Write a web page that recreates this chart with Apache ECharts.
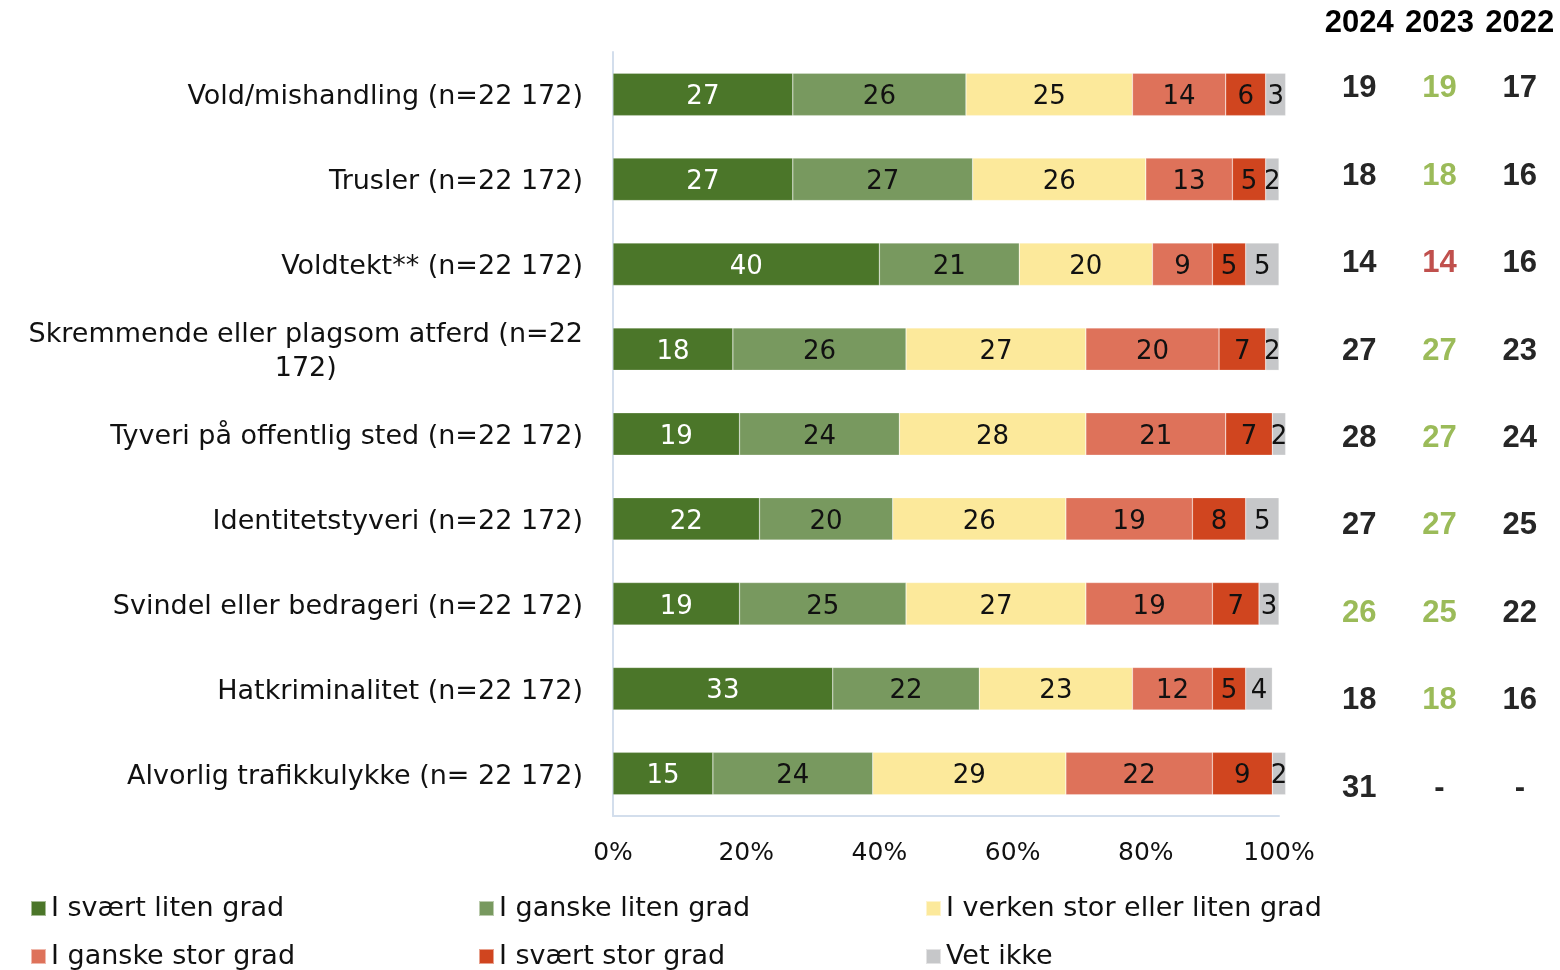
<!DOCTYPE html>
<html>
<head>
<meta charset="utf-8">
<script src="https://cdn.jsdelivr.net/npm/echarts@6/dist/echarts.min.js"></script>
<style>
html,body{margin:0;padding:0;background:#fff;}
#chart{width:1560px;height:970px;}
</style>
</head>
<body>
<div id="chart"></div>
<script>
var categories = [
  'Vold/mishandling (n=22 172)',
  'Trusler (n=22 172)',
  'Voldtekt** (n=22 172)',
  'Skremmende eller plagsom atferd (n=22\n172)',
  'Tyveri på offentlig sted (n=22 172)',
  'Identitetstyveri (n=22 172)',
  'Svindel eller bedrageri (n=22 172)',
  'Hatkriminalitet (n=22 172)',
  'Alvorlig trafikkulykke (n= 22 172)'
];
var seriesNames = ['I svært liten grad','I ganske liten grad','I verken stor eller liten grad','I ganske stor grad','I svært stor grad','Vet ikke'];
var sSvaertLiten  = [27,27,40,18,19,22,19,33,15];
var sGanskeLiten  = [26,27,21,26,24,20,25,22,24];
var sVerken       = [25,26,20,27,28,26,27,23,29];
var sGanskeStor   = [14,13, 9,20,21,19,19,12,22];
var sSvaertStor   = [ 6, 5, 5, 7, 7, 8, 7, 5, 9];
var sVetIkke      = [ 3, 2, 5, 2, 2, 5, 3, 4, 2];
var xTicks = [0,20,40,60,80,100];

var years = ['2024','2023','2022'];
var v2024 = [19,18,14,27,28,27,26,18,31];
var v2023 = [19,18,14,27,27,27,25,18,'-'];
var v2022 = [17,16,16,23,24,25,22,16,'-'];
// change markers: 'up' = green, 'down' = red, '' = neutral
var m2024 = ['','','','','','','up','',''];
var m2023 = ['up','up','down','up','up','up','up','up',''];
var m2022 = ['','','','','','','','',''];

var barColors = ['#4b7629','#78995f','#fce99b','#de725a','#d0451f','#c6c7c9'];
var markColors = {up:'#9bbb59', down:'#c0504d', '':'#262626'};
var FONT = '"DejaVu Sans", sans-serif';
var BOLD = '"Liberation Sans", Arial, sans-serif';

var seriesValues = [sSvaertLiten,sGanskeLiten,sVerken,sGanskeStor,sSvaertStor,sVetIkke];
var series = seriesValues.map(function(vals, i){
  return {
    name: seriesNames[i], type:'bar', stack:'total', xAxisIndex:0, yAxisIndex:0,
    barCategoryGap:'50%', clip:false,
    itemStyle:{color:barColors[i], borderColor:'rgba(255,255,255,0.5)', borderWidth:0.5},
    label:{show:true, position:'inside', fontFamily:FONT, fontSize:26, offset:[0,3],
      color: i===0 ? '#ffffff' : '#111111'},
    data: vals
  };
});

var tableVals = [v2024,v2023,v2022];
var tableMarks = [m2024,m2023,m2022];
tableVals.forEach(function(vals, yi){
  series.push({
    type:'scatter', xAxisIndex:1, yAxisIndex:1, symbolSize:1,
    itemStyle:{color:'rgba(0,0,0,0)', opacity:1}, silent:true,
    label:{show:true, position:'inside', fontFamily:BOLD, fontWeight:'bold', fontSize:31,
      formatter:function(p){return p.value[2];}},
    data: vals.map(function(v, ci){
      return {value:[yi, ci, v], label:{color: markColors[tableMarks[yi][ci]]}};
    })
  });
});

var labelRich = {c:{align:'center', fontFamily:FONT, fontSize:27, color:'#111', lineHeight:34}};

var legendPos = [[30,895],[478,895],[925,895],[30,943],[478,943],[925,943]];
var legends = seriesNames.map(function(n, i){
  return {left:legendPos[i][0], top:legendPos[i][1], padding:0, itemWidth:15, itemHeight:15, icon:'rect',
    itemGap:0, data:[n], textStyle:{fontFamily:FONT, fontSize:27, color:'#111'}};
});

var chart = echarts.init(document.getElementById('chart'));
chart.setOption({
  animation:false,
  grid:[
    {left:613, top:52, right:281, height:764},
    {left:1319, top:45, width:247.5, height:787}
  ],
  xAxis:[
    {type:'value', gridIndex:0, min:xTicks[0], max:xTicks[xTicks.length-1], interval:20,
      axisLine:{show:true, lineStyle:{color:'#d3deec', width:2}},
      axisTick:{show:false}, splitLine:{show:false},
      axisLabel:{formatter:'{value}%', fontFamily:FONT, fontSize:25, color:'#111', margin:25}},
    {type:'category', gridIndex:1, data:years, position:'top',
      axisLine:{show:false}, axisTick:{show:false},
      axisLabel:{interval:0, fontFamily:BOLD, fontWeight:'bold', fontSize:31, color:'#000', margin:6}}
  ],
  yAxis:[
    {type:'category', gridIndex:0, data:categories, inverse:true,
      axisLine:{show:true, lineStyle:{color:'#d3deec', width:2}},
      axisTick:{show:false},
      axisLabel:{interval:0, margin:30, fontFamily:FONT, fontSize:27, color:'#111', lineHeight:34,
        padding:[6,0,0,0],
        formatter:function(v){
          if (v.indexOf('\n')<0) return v;
          return v.split('\n').map(function(s){return '{c|'+s+'}';}).join('\n');
        }, rich:labelRich}},
    {type:'category', gridIndex:1, data:categories.map(function(c,i){return i;}), inverse:true, show:false}
  ],
  legend: legends,
  series: series
});
</script>
</body>
</html>
